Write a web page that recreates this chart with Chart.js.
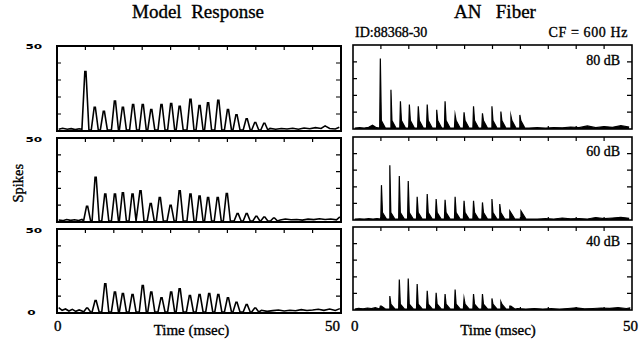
<!DOCTYPE html>
<html>
<head>
<meta charset="utf-8">
<script src="https://cdn.jsdelivr.net/npm/chart.js@4.4.0/dist/chart.umd.min.js"></script>
<style>
  body { margin: 0; background: #fff; width: 639px; height: 343px; position: relative; overflow: hidden; }
  canvas { position: absolute; }
  .t { position: absolute; font-family: "Liberation Serif", serif; color: #000; white-space: pre; line-height: 1; -webkit-text-stroke: 0.35px #000; }
  .num { position: absolute; font-family: "DejaVu Sans", sans-serif; font-weight: bold; font-size: 8px; line-height: 1; transform: scale(1.5, 0.85); transform-origin: right center; }
</style>
</head>
<body>

<div class="t" style="left:0;width:396px;text-align:center;top:2px;font-size:19px">Model  Response</div>
<div class="t" style="left:353px;width:284px;text-align:center;top:2px;font-size:19px">AN   Fiber</div>
<div class="t" style="left:355px;top:26px;font-size:14px">ID:88368-30</div>
<div class="t" style="right:11px;top:26px;font-size:14px;letter-spacing:0.6px">CF = 600 Hz</div>
<div class="t" style="right:19px;top:54px;font-size:14px">80 dB</div>
<div class="t" style="right:19px;top:145px;font-size:14px">60 dB</div>
<div class="t" style="right:19px;top:235px;font-size:14px">40 dB</div>
<div class="t" style="left:-1px;top:176px;font-size:14.5px;transform:rotate(-90deg);transform-origin:center">Spikes</div>

<div class="num" style="right:597px;top:43px">50</div>
<div class="num" style="right:597px;top:136px">50</div>
<div class="num" style="right:597px;top:227px">50</div>
<div class="num" style="right:603px;top:309px">0</div>

<div class="t" style="left:54px;top:319px;font-size:15px">0</div>
<div class="t" style="left:325px;top:319px;font-size:15px">50</div>
<div class="t" style="left:351px;top:319px;font-size:15px">0</div>
<div class="t" style="left:623px;top:319px;font-size:15px">50</div>
<div class="t" style="left:0;width:383px;text-align:center;top:323px;font-size:15px">Time (msec)</div>
<div class="t" style="left:353px;width:290px;text-align:center;top:323px;font-size:15px">Time (msec)</div>

<script>
// ---- axis settings ----
const xMax = 50;
const yMax = 50;
const xTicks = [5, 10, 15, 20, 25, 30, 35, 40, 45];
const yTicks = [10, 20, 30, 40];

// ---- Model response, 80 dB ----
const m80T = [5.0, 6.65, 8.25, 10.2, 11.6, 13.4, 15.1, 16.6, 18.4, 20.1, 21.6, 23.5, 25.1, 26.6, 28.4, 30.1, 31.6, 33.4, 34.9, 36.5];
const m80H = [35, 14, 11.6, 17.6, 14, 15.6, 15.6, 12.6, 15.6, 16.2, 14.6, 18.6, 15, 16.6, 18, 12.6, 9.6, 7.2, 5, 4.6];
const m80NoiseT = [0.3, 1.0, 1.8, 2.5, 3.2, 3.9, 4.3, 37.5, 38.5, 39.5, 40.5, 41.5, 42.5, 43.5, 44.5, 45.5, 46.5, 47.2, 48.0, 49.0, 49.7];
const m80NoiseV = [1.0, 1.6, 1.0, 1.4, 0.8, 1.3, 1.0, 1.5, 1.0, 1.5, 1.2, 1.6, 1.0, 1.8, 1.3, 2.0, 1.5, 3.0, 1.5, 1.2, 2.2];

// ---- Model response, 60 dB ----
const m60T = [5.3, 6.8, 8.5, 10.2, 11.6, 13.3, 14.7, 16.5, 18.1, 20.0, 21.6, 23.5, 25.1, 26.6, 28.3, 29.9, 31.8, 33.4, 35.1, 36.5, 38.2];
const m60H = [9.4, 26.6, 16.6, 16.6, 17.4, 16.6, 18.6, 11, 14.6, 10, 18.6, 16.6, 15.4, 14.6, 14.6, 17, 5, 5, 3.4, 3, 2.4];
const m60NoiseT = [0.3, 1.0, 1.7, 2.4, 3.1, 3.8, 4.4, 39.3, 40.2, 41.2, 42.2, 43.2, 44.2, 45.2, 46.2, 47.2, 48.2, 49.2, 49.8];
const m60NoiseV = [1.2, 0.8, 1.5, 1.0, 1.3, 0.9, 1.5, 1.2, 1.8, 1.3, 1.5, 1.1, 1.7, 1.4, 1.9, 1.5, 1.8, 1.3, 3.0];

// ---- Model response, 40 dB ----
const m40T = [5.3, 6.8, 8.5, 10.2, 11.6, 13.3, 15.1, 16.6, 18.4, 20.1, 21.6, 23.4, 25.1, 26.8, 28.4, 30.1, 31.6, 33.4, 34.9];
const m40H = [3, 7.4, 17.4, 12.4, 11.6, 11, 16.4, 12.4, 9, 12.4, 14.4, 10.4, 11, 11.6, 11, 9, 6.4, 5, 3];
const m40NoiseT = [0.3, 0.9, 1.5, 2.1, 2.7, 3.3, 3.9, 4.4, 36.0, 37.0, 38.0, 39.0, 40.0, 41.0, 42.0, 43.0, 44.0, 45.0, 46.0, 47.0, 48.0, 49.0, 49.8];
const m40NoiseV = [3.2, 1.6, 2.4, 1.2, 2.2, 1.0, 1.8, 1.2, 1.6, 1.0, 1.4, 1.8, 1.2, 1.6, 1.3, 2.0, 1.5, 1.8, 2.2, 1.6, 2.4, 1.5, 2.6];

// ---- AN fiber, 80 dB ----
const a80T = [4.9, 6.8, 8.5, 10.1, 11.7, 13.3, 15.0, 16.5, 18.3, 19.9, 21.6, 23.2, 24.9, 26.5, 28.3, 29.9];
const a80H = [42, 23.3, 16.5, 14.5, 13.5, 14.5, 11.4, 16.5, 8.4, 10, 13.5, 9.4, 13.5, 10.4, 7.8, 8.4];
const a80NoiseT = [0.3, 1.2, 2.0, 2.8, 3.5, 4.2, 31.5, 33.0, 34.5, 36.0, 37.5, 39.0, 40.5, 42.0, 43.5, 45.0, 46.5, 48.0, 49.5];
const a80NoiseV = [0.6, 0.8, 0.6, 1.0, 2.2, 0.8, 0.6, 0.8, 0.5, 0.9, 0.7, 1.2, 0.8, 1.8, 0.8, 1.5, 1.0, 2.0, 1.2];

// ---- AN fiber, 60 dB ----
const a60T = [5.1, 6.6, 8.3, 9.9, 11.5, 13.3, 14.9, 16.5, 18.3, 19.9, 21.6, 23.2, 24.9, 26.3, 28.1, 30.1];
const a60H = [21, 33, 26.5, 23.5, 14, 15.6, 12.6, 12.2, 14, 11.6, 11.6, 10.6, 12.6, 9.6, 5.5, 5.5];
const a60NoiseT = [0.3, 1.2, 2.0, 2.8, 3.6, 4.3, 31.5, 33.0, 34.5, 36.0, 37.5, 39.0, 40.5, 42.0, 43.5, 45.0, 46.5, 48.0, 49.5];
const a60NoiseV = [0.5, 0.7, 0.5, 0.8, 0.6, 0.9, 0.6, 0.5, 0.8, 0.6, 1.2, 0.7, 0.9, 0.6, 1.5, 0.8, 1.2, 1.6, 1.0];

// ---- AN fiber, 40 dB ----
const a40T = [4.9, 6.6, 8.3, 9.9, 11.5, 13.3, 14.9, 16.5, 18.3, 19.9, 21.6, 23.2, 24.9, 26.5, 28.1];
const a40H = [2.4, 8.4, 18.4, 19, 15.6, 11.6, 10.4, 9.6, 12.4, 7, 9.6, 9.6, 7, 5, 2.4];
const a40NoiseT = [0.3, 1.0, 1.8, 2.6, 3.3, 4.0, 29.5, 31.0, 32.5, 34.0, 35.5, 37.0, 38.5, 40.0, 41.5, 43.0, 44.5, 46.0, 47.5, 49.0, 49.7];
const a40NoiseV = [0.6, 1.0, 0.7, 1.2, 0.8, 1.4, 0.8, 0.6, 0.9, 0.6, 0.8, 0.5, 0.9, 1.3, 0.7, 0.9, 1.2, 1.0, 1.4, 0.9, 1.3];

// model peaks: narrow open triangles sitting on the baseline
function modelPoints(T, H, nT, nV) {
    const pts = nT.map((t, i) => ({ x: t, y: nV[i] }));
    T.forEach((t, i) => {
        pts.push({ x: t - 0.62, y: 0.6 }, { x: t - 0.1, y: H[i] }, { x: t + 0.1, y: H[i] }, { x: t + 0.62, y: 0.6 });
    });
    return pts.sort((a, b) => a.x - b.x);
}

// AN peaks: solid spike with a short foot to the right
function fiberPoints(T, H, nT, nV, foot) {
    const pts = nT.map((t, i) => ({ x: t, y: nV[i] }));
    T.forEach((t, i) => {
        pts.push({ x: t - 0.12, y: 0.6 }, { x: t, y: H[i] }, { x: t + 0.18, y: Math.min(foot, H[i]) }, { x: t + 0.9, y: 0.6 });
    });
    return pts.sort((a, b) => a.x - b.x);
}

// border + inward ticks, drawn from the chart's own scales
const frame = {
    id: "frame",
    afterDraw(chart) {
        const { ctx, chartArea: a, scales: { x, y } } = chart;
        const o = chart.options.plugins.frame;
        ctx.save();
        ctx.strokeStyle = "#000";
        ctx.lineWidth = 1.2;
        ctx.beginPath();
        xTicks.forEach(v => {
            const px = x.getPixelForValue(v);
            ctx.moveTo(px, a.top); ctx.lineTo(px, a.top + 4);
            if (o.bottom) { ctx.moveTo(px, a.bottom); ctx.lineTo(px, a.bottom - 3); }
        });
        yTicks.forEach(v => {
            const py = y.getPixelForValue(v);
            ctx.moveTo(a.left, py); ctx.lineTo(a.left + 4, py);
            ctx.moveTo(a.right, py); ctx.lineTo(a.right - 5, py);
        });
        ctx.stroke();
        ctx.lineWidth = o.width;
        ctx.strokeRect(a.left, a.top, a.right - a.left, a.bottom - a.top);
        ctx.restore();
    }
};

function panel(left, top, w, h, pts, filled, borderW) {
    const c = document.createElement("canvas");
    c.width = w + 6; c.height = h + 6;
    c.style.left = (left - 3) + "px";
    c.style.top = (top - 3) + "px";
    document.body.appendChild(c);
    new Chart(c, {
        type: "line",
        data: {
            datasets: [{
                data: pts,
                borderColor: "#000",
                backgroundColor: "#000",
                borderWidth: filled ? 1.2 : 1.6,
                pointRadius: 0,
                tension: 0,
                fill: filled ? "origin" : false
            }]
        },
        options: {
            responsive: false,
            animation: false,
            events: [],
            layout: { padding: 3 },
            plugins: { legend: { display: false }, tooltip: { enabled: false }, frame: { width: borderW, bottom: filled } },
            scales: {
                x: { type: "linear", min: 0, max: xMax, display: false },
                y: { min: 0, max: yMax, display: false }
            }
        },
        plugins: [frame]
    });
}

panel(57, 46, 284, 85, modelPoints(m80T, m80H, m80NoiseT, m80NoiseV), false, 2);
panel(57, 138, 284, 84, modelPoints(m60T, m60H, m60NoiseT, m60NoiseV), false, 2);
panel(57, 229, 284, 84, modelPoints(m40T, m40H, m40NoiseT, m40NoiseV), false, 2);

panel(353, 45, 279, 84, fiberPoints(a80T, a80H, a80NoiseT, a80NoiseV, 5), true, 1.6);
panel(353, 137, 279, 83, fiberPoints(a60T, a60H, a60NoiseT, a60NoiseV, 4.5), true, 1.6);
panel(353, 227, 279, 83, fiberPoints(a40T, a40H, a40NoiseT, a40NoiseV, 3.5), true, 1.6);
</script>
</body>
</html>
